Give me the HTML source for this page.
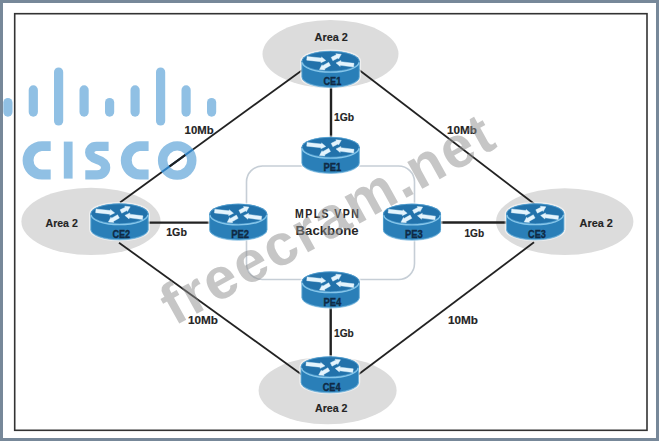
<!DOCTYPE html>
<html><head><meta charset="utf-8">
<style>
html,body{margin:0;padding:0;background:#fff;}
body{width:659px;height:441px;overflow:hidden;}
svg{display:block;}
text{font-family:"Liberation Sans",sans-serif;font-weight:bold;}
</style></head>
<body>
<svg width="659" height="441" viewBox="0 0 659 441">
<defs>
<g id="rt">
  <path d="M0,10.8 A29,10.4 0 0 1 58,10.8 L58,26.2 A29,10.6 0 0 1 0,26.2 Z" fill="none" stroke="#ffffff" stroke-width="3" opacity="0.55"/>
  <path d="M0,10.8 L0,26.2 A29,10.6 0 0 0 58,26.2 L58,10.8 Z" fill="#2a7fb8"/>
  <path d="M0.3,11 L0.3,26.2 A28.7,10.4 0 0 0 57.7,26.2 L57.7,11" fill="none" stroke="#8ccbec" stroke-width="0.7" opacity="0.7"/>
  <path d="M0.6,27 A28.4,10 0 0 0 57.4,27" fill="none" stroke="#4f9bd0" stroke-width="0.8" opacity="0.6"/>
  <ellipse cx="29" cy="10.8" rx="29" ry="10.4" fill="#2272ab"/>
  <ellipse cx="29" cy="10.8" rx="28.5" ry="10" fill="none" stroke="#5aa8da" stroke-width="0.9" opacity="0.8"/>
  <path d="M0.8,12 A28.2,9.6 0 0 0 57.2,12" fill="none" stroke="#86c6ea" stroke-width="1.3"/>
  <g fill="#e4f4fd" stroke="#e4f4fd" stroke-width="0.4" stroke-linejoin="round">
    <polygon points="5.10,9.64 19.42,11.23 19.30,12.37 24.20,9.90 19.96,6.41 19.83,7.55 5.50,5.96"/>
    <polygon points="27.10,11.78 21.03,15.15 20.47,14.15 17.90,19.00 23.38,19.39 22.82,18.39 28.90,15.02"/>
    <polygon points="31.23,10.15 36.43,7.53 36.95,8.55 39.70,3.80 34.24,3.20 34.76,4.22 29.57,6.85"/>
    <polygon points="52.44,12.87 39.20,11.15 39.35,10.01 34.40,12.40 38.58,15.96 38.72,14.82 51.96,16.53"/>
  </g>
</g>
<clipPath id="oOut"><circle cx="177.2" cy="160.5" r="19.3"/></clipPath>
<clipPath id="oIn"><circle cx="177.2" cy="160.5" r="9.9"/></clipPath>
</defs>

<!-- frame -->
<rect x="0" y="0" width="659" height="441" fill="#778899"/>
<rect x="3" y="3" width="653" height="435" fill="#ffffff"/>
<rect x="14.7" y="13.7" width="632.3" height="416.6" fill="none" stroke="#333" stroke-width="1.6"/>

<!-- area ellipses -->
<g fill="#dcdcdc">
  <ellipse cx="330.5" cy="54" rx="68" ry="34"/>
  <ellipse cx="91" cy="221.4" rx="69.6" ry="33.7"/>
  <ellipse cx="564.7" cy="221.6" rx="68.7" ry="33.4"/>
  <ellipse cx="327.6" cy="390.5" rx="69" ry="33.7"/>
</g>

<!-- MPLS box -->
<rect x="246.5" y="166" width="168" height="113.5" rx="16" ry="16" fill="none" stroke="#c6ced6" stroke-width="1.6"/>

<!-- links -->
<g stroke="#222" stroke-width="1.8" fill="none">
  <line x1="120" y1="202.4" x2="310" y2="64.5"/>
  <line x1="352" y1="64.5" x2="534.4" y2="204"/>
  <line x1="119" y1="242.7" x2="305" y2="377"/>
  <line x1="355" y1="377" x2="534" y2="242.3"/>
  <line x1="331" y1="80" x2="331" y2="145" stroke-width="2.4"/>
  <line x1="330.7" y1="300" x2="330.7" y2="365" stroke-width="2.4"/>
  <line x1="140" y1="222.6" x2="220" y2="222.6" stroke-width="2.4"/>
  <line x1="430" y1="222.5" x2="515" y2="222.5" stroke-width="2.4"/>
</g>

<!-- routers -->
<use href="#rt" x="301.6" y="50.5"/>
<use href="#rt" x="301.6" y="136.5"/>
<use href="#rt" x="209.3" y="203.3"/>
<use href="#rt" x="383.0" y="203.3"/>
<use href="#rt" x="301.6" y="271.0"/>
<use href="#rt" x="90.5" y="203.0"/>
<use href="#rt" x="506.2" y="203.0"/>
<use href="#rt" x="300.8" y="356.0"/>
<g fill="#0f2a45" stroke="#0f2a45" stroke-width="0.35" font-size="10.2" text-anchor="middle">
  <text x="332.4" y="85.3" textLength="17.8" lengthAdjust="spacingAndGlyphs">CE1</text>
  <text x="332.4" y="171.3" textLength="17.8" lengthAdjust="spacingAndGlyphs">PE1</text>
  <text x="240.1" y="238.1" textLength="17.8" lengthAdjust="spacingAndGlyphs">PE2</text>
  <text x="413.8" y="238.1" textLength="17.8" lengthAdjust="spacingAndGlyphs">PE3</text>
  <text x="332.4" y="305.8" textLength="17.8" lengthAdjust="spacingAndGlyphs">PE4</text>
  <text x="121.3" y="237.8" textLength="17.8" lengthAdjust="spacingAndGlyphs">CE2</text>
  <text x="537.0" y="237.8" textLength="17.8" lengthAdjust="spacingAndGlyphs">CE3</text>
  <text x="331.6" y="390.8" textLength="17.8" lengthAdjust="spacingAndGlyphs">CE4</text>
</g>

<!-- labels -->
<g fill="#242424" stroke="#242424" stroke-width="0.15" font-size="11.5">
  <text x="184.6" y="133.7" textLength="29" lengthAdjust="spacingAndGlyphs">10Mb</text>
  <text x="447" y="133.8" textLength="30" lengthAdjust="spacingAndGlyphs">10Mb</text>
  <text x="188" y="323.6" textLength="30" lengthAdjust="spacingAndGlyphs">10Mb</text>
  <text x="448" y="323.6" textLength="30" lengthAdjust="spacingAndGlyphs">10Mb</text>
  <text x="333.9" y="120.8" textLength="20.2" lengthAdjust="spacingAndGlyphs">1Gb</text>
  <text x="166.2" y="236" textLength="20.7" lengthAdjust="spacingAndGlyphs">1Gb</text>
  <text x="464.4" y="236.6" textLength="19.7" lengthAdjust="spacingAndGlyphs">1Gb</text>
  <text x="334" y="337.4" textLength="19.8" lengthAdjust="spacingAndGlyphs">1Gb</text>
  <text x="314.6" y="41.4" textLength="33.2" lengthAdjust="spacingAndGlyphs">Area 2</text>
  <text x="45.5" y="226.5" textLength="32.3" lengthAdjust="spacingAndGlyphs">Area 2</text>
  <text x="579.6" y="227.2" textLength="33.2" lengthAdjust="spacingAndGlyphs">Area 2</text>
  <text x="315" y="411.5" textLength="32.5" lengthAdjust="spacingAndGlyphs">Area 2</text>
</g>
<g fill="#262626" font-size="12">
  <text transform="translate(295.1,217.8) scale(0.88,1)" x="0" y="0" textLength="72.4" lengthAdjust="spacing">MPLS VPN</text>
  <text x="295.6" y="235.3" font-size="12.3" textLength="63" lengthAdjust="spacingAndGlyphs">Backbone</text>
</g>

<!-- cisco logo -->
<g fill="#90c0e4">
  <rect x="3.3" y="98" width="9.2" height="18.7" rx="4.6"/>
  <rect x="28.7" y="85.3" width="9.2" height="31.4" rx="4.6"/>
  <rect x="54" y="67.5" width="9.2" height="58" rx="4.6"/>
  <rect x="79.5" y="85.3" width="9.2" height="31.4" rx="4.6"/>
  <rect x="105" y="98" width="9.2" height="18.7" rx="4.6"/>
  <rect x="130.5" y="85.3" width="9.2" height="31.4" rx="4.6"/>
  <rect x="156" y="67.5" width="9.2" height="58" rx="4.6"/>
  <rect x="181.5" y="85.3" width="9.2" height="31.4" rx="4.6"/>
  <rect x="207" y="98" width="9.2" height="18.7" rx="4.6"/>
  <path d="M50.7,141.2 L41.8,141.2 A19.2,19.2 0 0 0 41.8,179.6 L50.7,179.6 L50.7,169.4 L41.8,169.4 A9.2,9.2 0 0 1 41.8,151.1 L50.7,151.1 Z"/>
  <rect x="63.8" y="141.6" width="8.8" height="37"/>
  <path d="M148.6,141.2 L139.8,141.2 A19,19.2 0 0 0 139.8,179.6 L148.6,179.6 L148.6,169.4 L139.8,169.4 A9,9.2 0 0 1 139.8,151.1 L148.6,151.1 Z"/>
  <circle cx="177.2" cy="160.5" r="14.6" fill="none" stroke="#90c0e4" stroke-width="9.4"/>
</g>
<path d="M108.6,146.4 L96.5,146.4 C91.5,146.4 89.7,149.5 89.7,152.6 C89.7,156.8 93.5,158.3 97.5,159.6 C102,161 105.6,163 105.6,167.6 C105.6,171.8 102.5,174.8 97,174.8 L85.3,174.8" fill="none" stroke="#90c0e4" stroke-width="9.3"/>
<line x1="120" y1="202.4" x2="310" y2="64.5" stroke="#2f7fc0" stroke-width="2" clip-path="url(#oOut)"/>
<line x1="120" y1="202.4" x2="310" y2="64.5" stroke="#1f1f1f" stroke-width="2" clip-path="url(#oIn)"/>

<!-- watermark -->
<text x="0" y="0" font-size="58" letter-spacing="2.0" fill="#8e8e8e" opacity="0.5" transform="translate(174.6,326.2) rotate(-29.0)">freecram.net</text>
</svg>
</body></html>
